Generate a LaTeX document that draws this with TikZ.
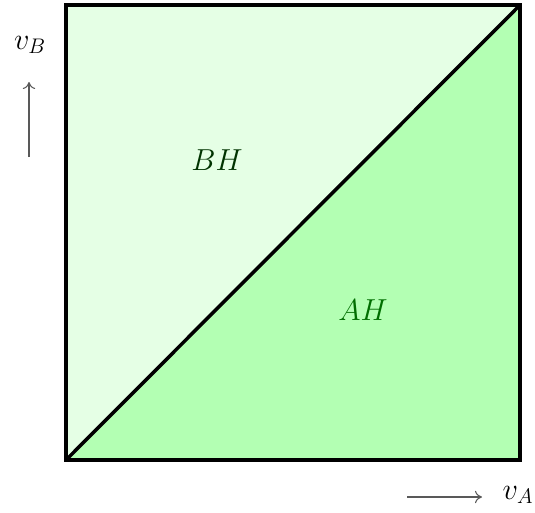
\documentclass[tikz,border=0pt]{standalone}
\usepackage{amsmath,amssymb}
\usepackage{tikz}
\usetikzlibrary{arrows.meta,positioning,calc}
\usepackage{xcolor}
\definecolor{lightgreen}{RGB}{229,255,229}
\definecolor{midgreen}{RGB}{179,255,179}
\definecolor{darkgreen}{RGB}{0,110,0}

\begin{document}
\begin{tikzpicture}[x=0.02cm, y=0.02cm,
    region/.style={font=\LARGE},
    axislabel/.style={font=\LARGE},
    axisarrow/.style={-{To[length=4pt,width=7pt]}, black!65, line width=0.6pt}
]
\useasboundingbox (0,0) rectangle (535,512);

% Regions
\coordinate (sw) at (66,52);
\coordinate (se) at (520,52);
\coordinate (ne) at (520,507);
\coordinate (nw) at (66,507);

\fill[lightgreen] (sw) -- (ne) -- (nw) -- cycle;
\fill[midgreen] (sw) -- (se) -- (ne) -- cycle;
\draw[line width=2pt] (sw) -- (ne);
\draw[line width=2pt] (sw) rectangle (ne);

\node[region, text=black!80!green] (bh) at (217,352) {$BH$};
\node[region, text=darkgreen] (ah) at (363,202) {$AH$};

% Axes
\node[axislabel] (vb) at (30,467) {$v_B$};
\coordinate (vb_from) at (29,355);
\coordinate (vb_to) at (29,430);
\draw[axisarrow] (vb_from) -- (vb_to);

\node[axislabel] (va) at (518,17) {$v_A$};
\coordinate (va_from) at (407,15);
\coordinate (va_to) at (482,15);
\draw[axisarrow] (va_from) -- (va_to);
\end{tikzpicture}
\end{document}
